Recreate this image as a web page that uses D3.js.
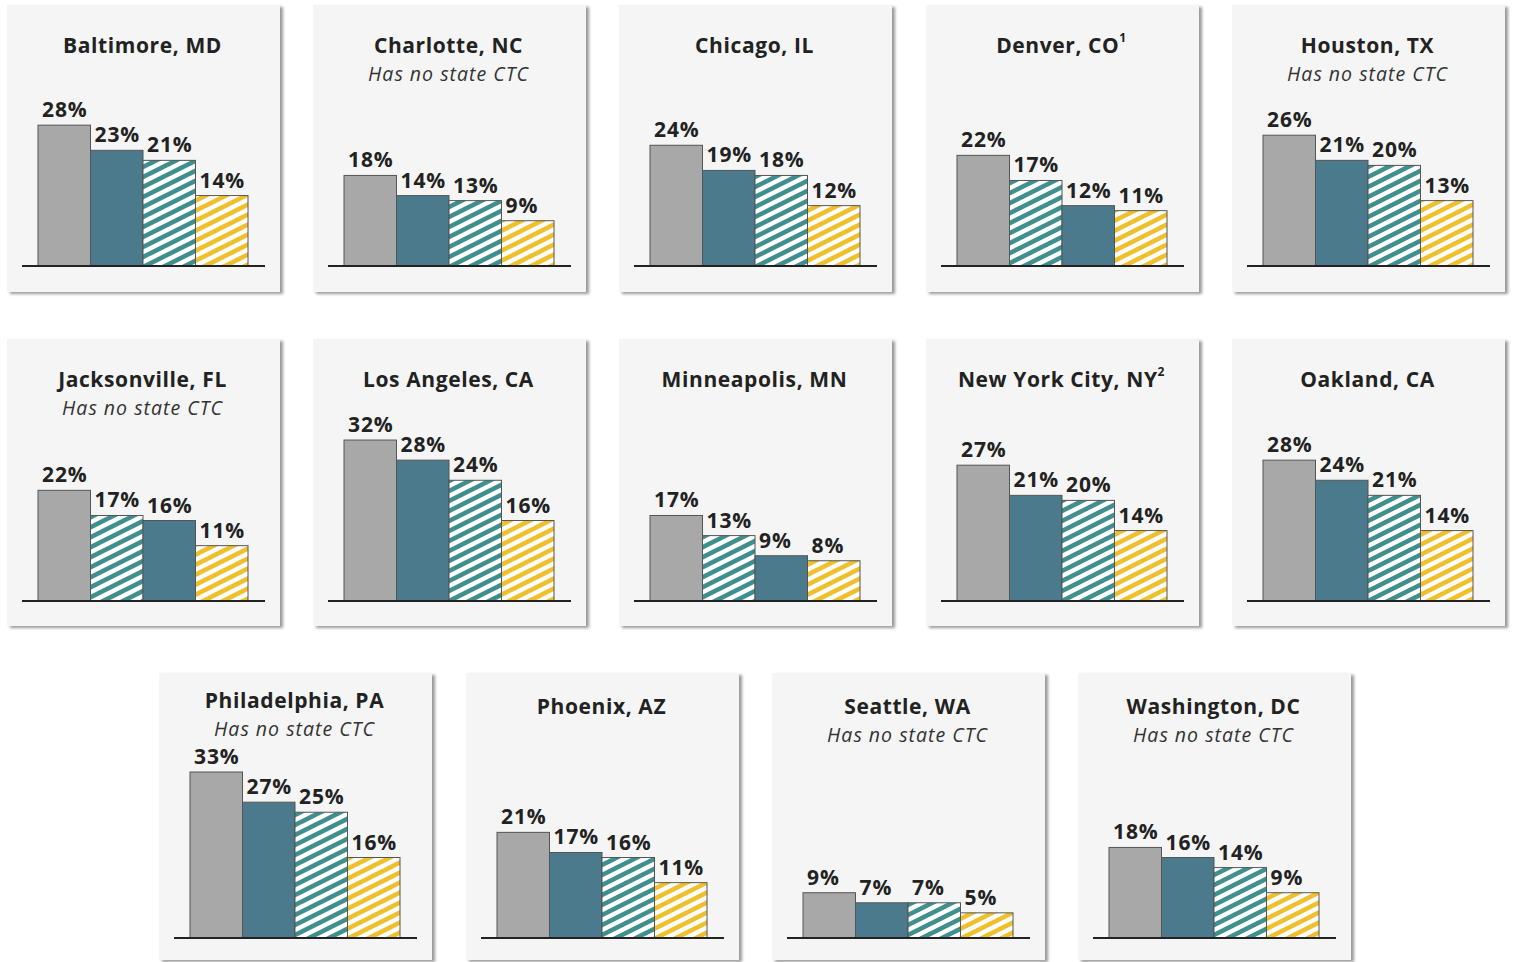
<!DOCTYPE html>
<html>
<head>
  <meta charset="utf-8">
  <title>City CTC small multiples</title>
  <script src="https://d3js.org/d3.v7.min.js"></script>
  <style>
    body { margin: 0; background: #fff; }
    text { font-family: "Open Sans", "DejaVu Sans", sans-serif; fill: #222; }
    .title { font-weight: 700; font-size: 21px; letter-spacing: 0.6px; }
    .sub { font-style: italic; font-size: 19.5px; letter-spacing: 1px; fill: #333; }
    .val { font-weight: 700; font-size: 21px; letter-spacing: 0.9px; }
  </style>
</head>
<body>
  <div id="chart"></div>

  <script>
    // Cities, in reading order
    var cities = ["Baltimore, MD", "Charlotte, NC", "Chicago, IL", "Denver, CO", "Houston, TX",
      "Jacksonville, FL", "Los Angeles, CA", "Minneapolis, MN", "New York City, NY", "Oakland, CA",
      "Philadelphia, PA", "Phoenix, AZ", "Seattle, WA", "Washington, DC"];
    var footnotes = ["", "", "", "1", "", "", "", "", "2", "", "", "", "", ""];
    var noStateCTC = [false, true, false, false, true, true, false, false, false, false, true, false, true, true];

    // Four series per city (%)
    var seriesGray   = [28, 18, 24, 22, 26, 22, 32, 17, 27, 28, 33, 21, 9, 18];
    var seriesSolid  = [23, 14, 19, 12, 21, 16, 28, 9, 21, 24, 27, 17, 7, 16];
    var seriesHatch  = [21, 13, 18, 17, 20, 17, 24, 13, 20, 21, 25, 16, 7, 14];
    var seriesYellow = [14, 9, 12, 11, 13, 11, 16, 8, 14, 14, 16, 11, 5, 9];
    var seriesKeys = ["gray", "solid", "hatch", "yellow"];

    var panelW = 273, panelH = 287;
    var rows = [
      { top: 5,   xs: [7, 313, 619, 926, 1232], base: 261, titleY: 40 },
      { top: 339, xs: [7, 313, 619, 926, 1232], base: 262, titleY: 40 },
      { top: 673, xs: [159, 466, 772, 1078],    base: 265, titleY: 33 }
    ];

    var svg = d3.select("#chart").append("svg")
      .attr("width", 1514).attr("height", 962);

    var defs = svg.append("defs");
    var shadow = defs.append("filter").attr("id", "shadow")
      .attr("x", "-5%").attr("y", "-5%").attr("width", "115%").attr("height", "115%");
    shadow.append("feDropShadow").attr("dx", 3).attr("dy", 2)
      .attr("stdDeviation", 1.6).attr("flood-color", "#000").attr("flood-opacity", 0.4);

    // slanted stripes: rise 10px over 20px, lines run past the tile edges so no seams
    function stripes(id, color) {
      var p = defs.append("pattern").attr("id", id)
        .attr("patternUnits", "userSpaceOnUse")
        .attr("width", 20).attr("height", 10);
      p.append("rect").attr("width", 20).attr("height", 10).attr("fill", "#fff");
      var d = [-20, 0, 20].map(function(o) {
        return "M" + (o - 10) + ",15L" + (o + 30) + ",-5";
      }).join("");
      p.append("path").attr("d", d)
        .attr("stroke", color).attr("stroke-width", 4.6);
    }
    stripes("hatchTeal", "#3f8f8f");
    stripes("hatchYellow", "#efbf2c");

    var fills = { gray: "#a8a8a8", solid: "#4b7a8c", hatch: "url(#hatchTeal)", yellow: "url(#hatchYellow)" };

    var y = d3.scaleLinear().domain([0, 33]).range([0, 166]);
    var x = d3.scaleBand().domain([0, 1, 2, 3]).range([31, 241]).paddingInner(0);

    var idx = 0;
    rows.forEach(function(row) {
      row.xs.forEach(function(px) {
        var i = idx++;
        var g = svg.append("g").attr("transform", "translate(" + px + "," + row.top + ")");
        g.append("rect").attr("width", panelW).attr("height", panelH)
          .attr("fill", "#f4f5f4").attr("filter", "url(#shadow)");

        var vals = [seriesGray[i], seriesSolid[i], seriesHatch[i], seriesYellow[i]];
        var bars = seriesKeys.map(function(k, j) { return { key: k, v: vals[j], j: j }; });
        bars.sort(function(a, b) { return b.v - a.v || a.j - b.j; });

        var maxTop = row.base - y(bars[0].v);
        var titleY = row.titleY;
        if (noStateCTC[i]) titleY = Math.min(titleY, maxTop - 8 - 7 - 57);

        var t = g.append("text").attr("class", "title").attr("x", panelW / 2 - 1).attr("y", titleY)
          .attr("text-anchor", "middle").attr("dominant-baseline", "central").text(cities[i]);
        if (footnotes[i]) t.append("tspan").attr("dy", -8).attr("font-size", 12).text(footnotes[i]);
        if (noStateCTC[i]) {
          g.append("text").attr("class", "sub").attr("x", panelW / 2 - 1).attr("y", titleY + 28)
            .attr("text-anchor", "middle").attr("dominant-baseline", "central").text("Has no state CTC");
        }

        g.selectAll(".bar").data(bars).enter().append("rect")
          .attr("x", function(d, k) { return x(k); })
          .attr("y", function(d) { return row.base - y(d.v); })
          .attr("width", x.bandwidth())
          .attr("height", function(d) { return y(d.v); })
          .attr("fill", function(d) { return fills[d.key]; })
          .attr("stroke", "#555").attr("stroke-width", 1);

        g.selectAll(".val").data(bars).enter().append("text").attr("class", "val")
          .attr("x", function(d, k) { return x(k) + 4; })
          .attr("y", function(d) { return row.base - y(d.v) - 8; })
          .text(function(d) { return d.v + "%"; });

        g.append("line").attr("x1", 15).attr("x2", 258)
          .attr("y1", row.base).attr("y2", row.base)
          .attr("stroke", "#222").attr("stroke-width", 2.2);
      });
    });
  </script>
</body>
</html>
